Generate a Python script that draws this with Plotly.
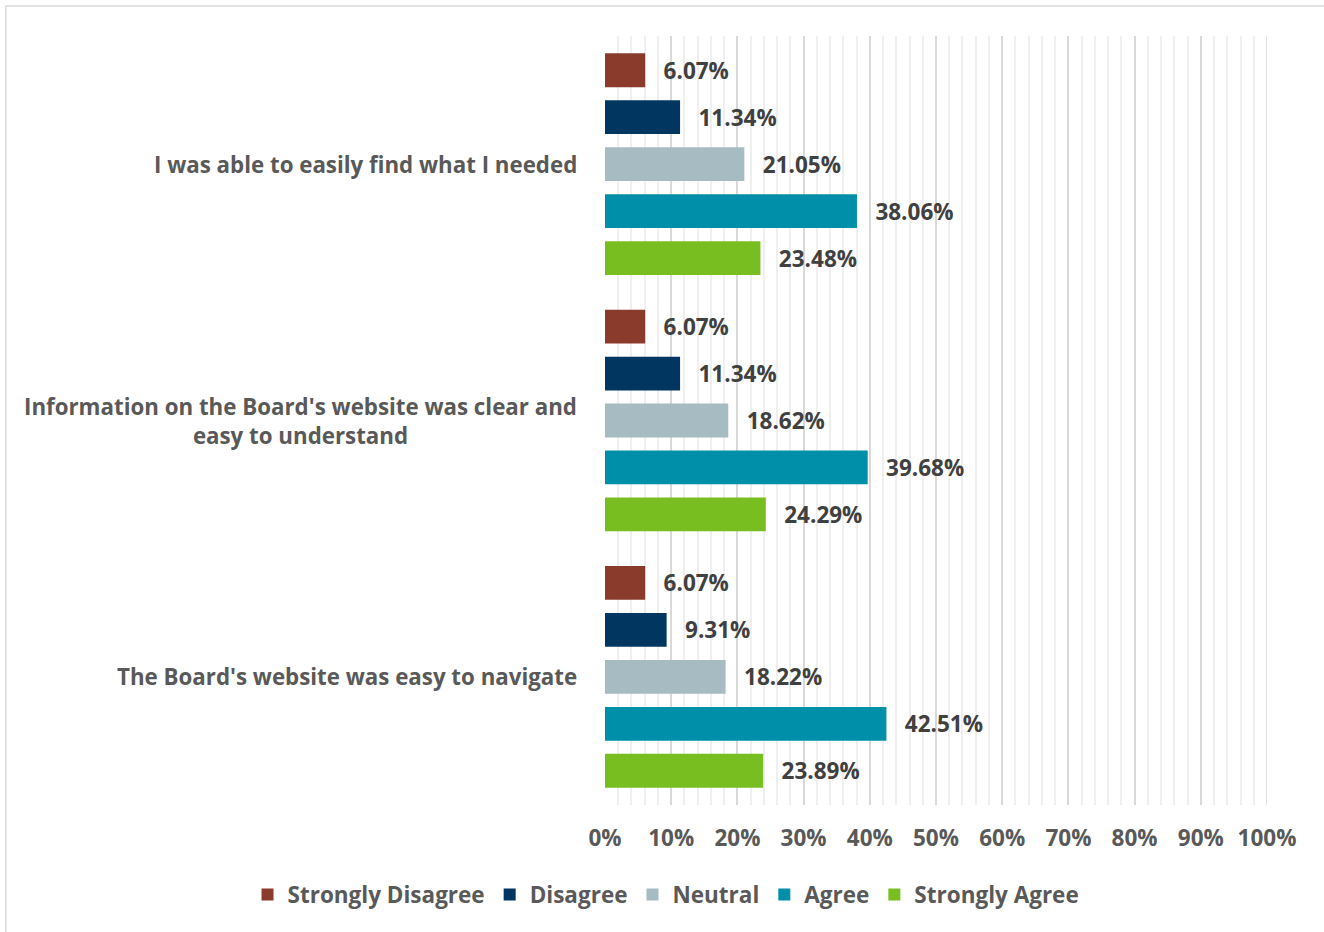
import plotly.graph_objects as go

categories = [
    "I was able to easily find what I needed",
    "Information on the Board's website was clear and<br>easy to understand",
    "The Board's website was easy to navigate",
]
series_names = ["Strongly Disagree", "Disagree", "Neutral", "Agree", "Strongly Agree"]
strongly_disagree = [6.07, 6.07, 6.07]
disagree = [11.34, 11.34, 9.31]
neutral = [21.05, 18.62, 18.22]
agree = [38.06, 39.68, 42.51]
strongly_agree = [23.48, 24.29, 23.89]
series_values = [strongly_disagree, disagree, neutral, agree, strongly_agree]
colors = ["#8B3B2B", "#00365F", "#A6BBC2", "#008FA9", "#78BE21"]
tick_values = list(range(0, 101, 10))
tick_labels = [f"{v}%" for v in tick_values]

FONT = "Open Sans"
LABEL_GRAY = "#595959"

fig = go.Figure()
for name, vals, col in zip(series_names, series_values, colors):
    fig.add_trace(go.Bar(
        y=categories,
        x=vals,
        name=name,
        orientation="h",
        marker=dict(color=col, line=dict(width=0)),
        text=[f"\u00a0\u00a0\u2009{v:.2f}%" for v in vals],
        textposition="outside",
        cliponaxis=False,
        textfont=dict(family=FONT, size=22.5, color="#404040", weight="bold"),
        hoverinfo="x+name",
    ))

# category labels, centred across their lines
for cat in categories:
    fig.add_annotation(
        x=-0.039, xref="paper", y=cat, yref="y",
        text=cat, showarrow=False, xanchor="right", align="center",
        font=dict(family=FONT, size=22.3, color=LABEL_GRAY, weight="bold"),
    )

# major gridline at the right edge of the value range
fig.add_shape(type="line", xref="x", yref="paper", x0=100, x1=100, y0=0, y1=1,
              line=dict(color="#D9D9D9", width=1.5), layer="below")

# thin outline around the whole chart
fig.add_shape(type="rect", xref="paper", yref="paper",
              x0=-0.905, x1=1.2, y0=-0.3, y1=1.039,
              line=dict(color="#D9D9D9", width=1.5), fillcolor="rgba(0,0,0,0)", layer="below")

fig.update_layout(
    width=1324, height=932,
    margin=dict(l=605, r=57, t=36, b=127),
    paper_bgcolor="white", plot_bgcolor="white",
    barmode="group", bargap=0.084, bargroupgap=0.28,
    showlegend=True,
    legend=dict(orientation="h", x=-0.54, xanchor="left", y=-0.089, yanchor="top",
                font=dict(family=FONT, size=22.5, color=LABEL_GRAY, weight="bold"),
                itemwidth=30, traceorder="normal"),
    xaxis=dict(range=[0, 100], tickvals=tick_values, ticktext=tick_labels,
               showgrid=True, gridcolor="#D9D9D9", gridwidth=1.5,
               minor=dict(dtick=2, showgrid=True, gridcolor="#EFEFEF", gridwidth=1.5),
               zeroline=False, showline=False, ticks="",
               ticklabelstandoff=17,
               tickfont=dict(family=FONT, size=22.5, color=LABEL_GRAY, weight="bold")),
    yaxis=dict(autorange="reversed", showticklabels=False, showgrid=False,
               zeroline=False, showline=False, ticks=""),
)

fig.write_html("out.html")
